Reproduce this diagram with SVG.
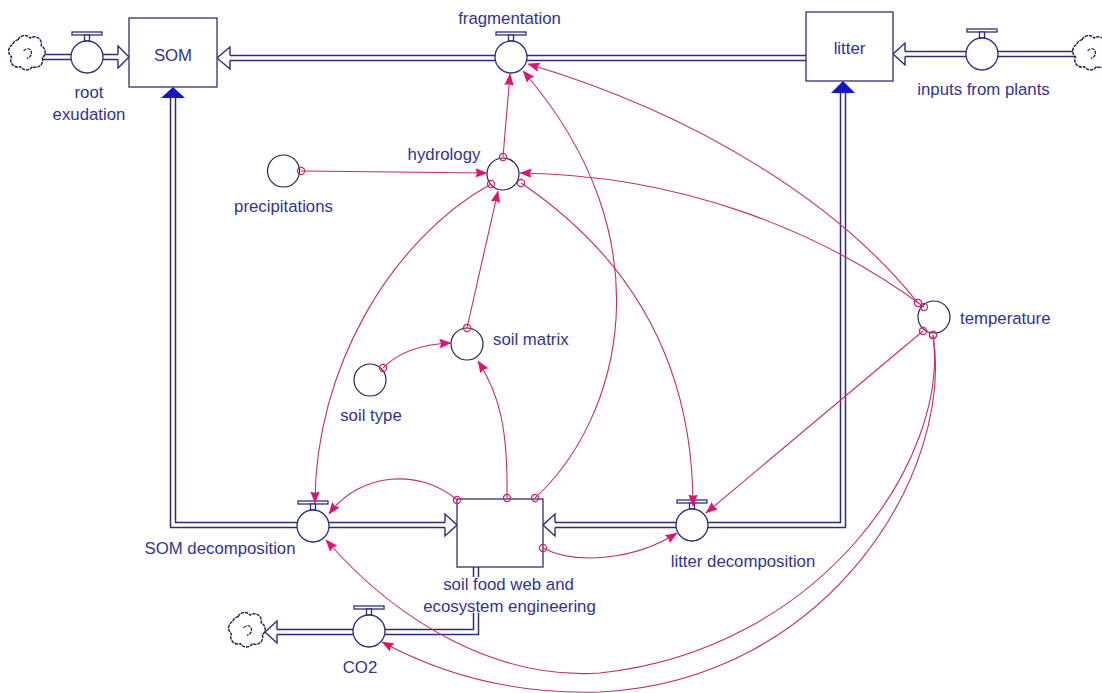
<svg xmlns="http://www.w3.org/2000/svg" width="1102" height="693" viewBox="0 0 1102 693">
<style>
text{font-family:"Liberation Sans",Arial,sans-serif;font-size:16.8px;fill:#32329a}
.m{text-anchor:middle}
.stock{fill:#fff;stroke:#2d2d7d;stroke-width:1.3}
.aux{fill:#fff;stroke:#222255;stroke-width:1.2}
.po{fill:none;stroke:#2d2d7d;stroke-width:6.5}
.pi{fill:none;stroke:#fff;stroke-width:3.5}
.oa{fill:#fff;stroke:#2d2d7d;stroke-width:1.4}
.fa{fill:#1515c8}
.cl{fill:#fff;stroke:#1e1e50;stroke-width:1.3;stroke-dasharray:3,0.8}
.cn{fill:none;stroke:#c42c70;stroke-width:1.1;marker-start:url(#o);marker-end:url(#a)}
</style>
<defs>
<marker id="a" viewBox="0 0 12 10" refX="11.5" refY="5" markerWidth="12" markerHeight="10" orient="auto" markerUnits="userSpaceOnUse"><path d="M0,0.3 L12,5 L0,9.7 L1.5,5 Z" fill="#e4106e"/></marker>
<marker id="o" viewBox="0 0 10 10" refX="5" refY="5" markerWidth="10" markerHeight="10" markerUnits="userSpaceOnUse"><circle cx="5" cy="5" r="3.6" fill="none" stroke="#d0206e" stroke-width="1.2"/></marker>
<g id="valve"><rect x="-15" y="-25" width="30" height="3" class="stock"/><rect x="-2.5" y="-22" width="5" height="6" class="stock"/><circle r="16" class="stock"/></g>
<g id="cloud"><path class="cl" d="M-9,-13 a6.5,6.5 0 0 1 11,-1.5 a6.5,6.5 0 0 1 10,7 a6.5,6.5 0 0 1 1,11 a6.5,6.5 0 0 1 -9,8 a6.5,6.5 0 0 1 -11,0 a6.5,6.5 0 0 1 -8,-9 a6.5,6.5 0 0 1 1,-11 a6.5,6.5 0 0 1 5,-4.5 z"/><path d="M-4,-3 q5,-4 7,1 q1,4 -4,6" fill="none" stroke="#1e1e50" stroke-width="1.1" stroke-dasharray="3,0.8"/></g>
</defs>
<rect width="1102" height="693" fill="#fff"/>

<g id="flows">
<path class="po" d="M42,57 H118"/><path class="pi" d="M42,57 H118"/>
<polyline class="oa" points="118,54.5 118,46 129,57 118,68 118,59.5"/>
<path class="po" d="M806,58 H230"/><path class="pi" d="M806,58 H230"/>
<polyline class="oa" points="230,55.5 230,47 217,58 230,69 230,60.5"/>
<path class="po" d="M1078,54 H905"/><path class="pi" d="M1078,54 H905"/>
<polyline class="oa" points="905,51.5 905,43 893,54 905,65 905,56.5"/>
<path class="po" d="M173,98 V525 H445"/><path class="pi" d="M173,98 V525 H445"/>
<polyline class="oa" points="445,522.5 445,514 457,525 445,536 445,527.5"/>
<polygon class="fa" points="173,87 161,98 185,98"/>
<path class="po" d="M843,93 V525 H555"/><path class="pi" d="M843,93 V525 H555"/>
<polyline class="oa" points="555,522.5 555,514 543,525 555,536 555,527.5"/>
<polygon class="fa" points="843,81 831,93 855,93"/>
<path class="po" d="M476,567 V577"/><path class="pi" d="M476,567 V577"/>
<path class="po" d="M476,613 V632 H277"/><path class="pi" d="M476,613 V632 H277"/>
<polyline class="oa" points="277,629.5 277,621 265,632 277,643 277,634.5"/>
</g>

<g id="clouds">
<use href="#cloud" transform="translate(28,54) scale(1.1)"/>
<use href="#cloud" transform="translate(1092,54) scale(1.1)"/>
<use href="#cloud" transform="translate(248,631) scale(1.1)"/>
</g>

<g id="n-som"><rect x="129" y="18" width="88" height="69" class="stock"/><text x="173" y="61" class="m">SOM</text></g>
<g id="n-litter"><rect x="806" y="12" width="87" height="69" class="stock"/><text x="849.5" y="54" class="m">litter</text></g>
<g id="n-soilfoodweb"><rect x="457" y="499" width="86" height="68" class="stock"/><text x="508.5" y="590" class="m">soil food web and</text><text x="509.5" y="612" class="m">ecosystem engineering</text></g>

<g id="v-root"><use href="#valve" x="87" y="57"/><text x="89" y="98" class="m">root</text><text x="89" y="120" class="m">exudation</text></g>
<g id="v-fragmentation"><use href="#valve" x="511" y="57"/><text x="509.5" y="24" class="m">fragmentation</text></g>
<g id="v-inputs"><use href="#valve" x="982" y="54"/><text x="983.5" y="95" class="m">inputs from plants</text></g>
<g id="v-somdec"><use href="#valve" x="313" y="526"/><text x="220" y="554" class="m">SOM decomposition</text></g>
<g id="v-litdec"><use href="#valve" x="692" y="525"/><text x="743" y="567" class="m">litter decomposition</text></g>
<g id="v-co2"><use href="#valve" x="369" y="631"/><text x="360" y="673" class="m">CO2</text></g>

<g id="a-hydrology"><circle cx="503" cy="174" r="16" class="aux"/><text x="444" y="160" class="m">hydrology</text></g>
<g id="a-precipitations"><circle cx="283.5" cy="171" r="16" class="aux"/><text x="283.5" y="212" class="m">precipitations</text></g>
<g id="a-soilmatrix"><circle cx="467" cy="344" r="16" class="aux"/><text x="493" y="345">soil matrix</text></g>
<g id="a-soiltype"><circle cx="370" cy="380" r="16" class="aux"/><text x="371" y="421" class="m">soil type</text></g>
<g id="a-temperature"><circle cx="934" cy="317" r="16" class="aux"/><text x="960" y="324">temperature</text></g>

<g id="connectors">
<path class="cn" d="M301,171 L487,173"/>
<path class="cn" d="M503,157 L510,74"/>
<path class="cn" d="M467,328 L498,191"/>
<path class="cn" d="M383,368 Q405,345 451,343"/>
<path class="cn" d="M507,498 C508,430 500,395 478,361"/>
<path class="cn" d="M535,498 C620,420 670,240 523,71"/>
<path class="cn" d="M491,184 C390,240 315,370 315,503"/>
<path class="cn" d="M521,183 C620,250 693,350 693,506"/>
<path class="cn" d="M918,303 C840,205 700,115 528,64"/>
<path class="cn" d="M924,307 C820,230 680,175 520,173"/>
<path class="cn" d="M923,331 L706,513"/>
<path class="cn" d="M933,335 C950,460 820,650 600,673 C500,680 400,625 326,540"/>
<path class="cn" d="M933,335 C955,470 830,680 600,692 C500,695 430,668 382,642"/>
<path class="cn" d="M457,500 C420,468 360,472 329,514"/>
<path class="cn" d="M543,548 C575,565 635,560 677,533"/>
</g>
</svg>
